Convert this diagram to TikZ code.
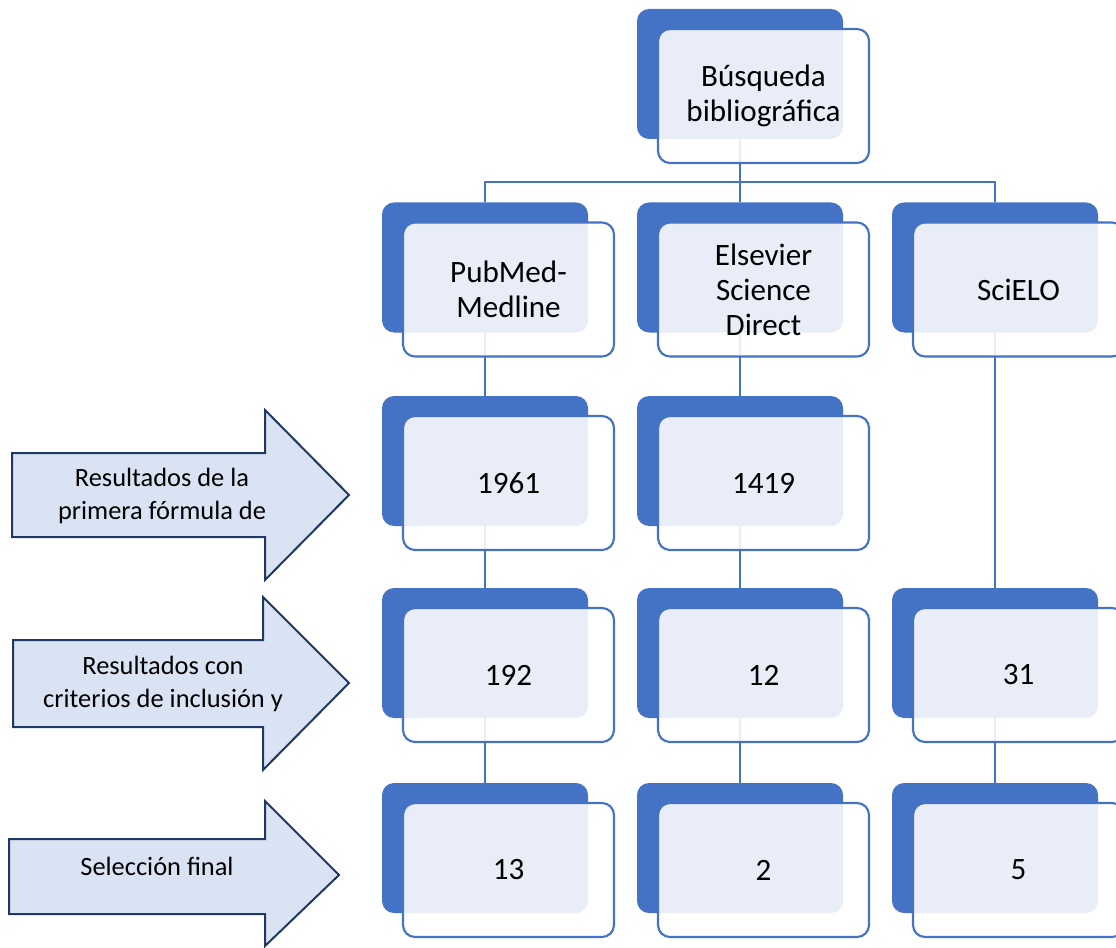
\documentclass[tikz,border=0pt]{standalone}
\usepackage{fontspec}
\setmainfont{Carlito}
\usetikzlibrary{positioning, calc}
\definecolor{accent}{HTML}{4472C4}
\definecolor{arrowfill}{HTML}{DAE3F3}
\definecolor{arrowline}{HTML}{203864}

\begin{document}
\begin{tikzpicture}[
        x=0.75pt, y=-0.75pt,
        back/.style={rectangle, rounded corners=9pt, fill=accent, inner sep=0pt,
                     minimum width=154.5pt, minimum height=97.5pt},
        front/.style={rectangle, rounded corners=9pt, draw=accent, line width=1.6pt,
                      fill=white, fill opacity=0.88, text opacity=1, align=center,
                      minimum width=158.25pt, minimum height=100.5pt,
                      font=\fontsize{23.3}{26.25}\selectfont},
        link/.style={draw=accent, line width=1.6pt},
        banner/.style={draw=arrowline, line width=1.5pt, fill=arrowfill, line join=miter},
        bannertext/.style={align=center, font=\fontsize{19.8}{24.75}\selectfont},
    ]
        \clip (0,0) rectangle (1116,948);

        % back plates
        \node[back] (top) at (740,74) {};
        \node[back] (pub) at (485,267.5) {};
        \node[back] (els) at (740,267.5) {};
        \node[back] (sci) at (995,267.5) {};
        \node[back] (pub1) at (485,461) {};
        \node[back] (els1) at (740,461) {};
        \node[back] (pub2) at (485,653) {};
        \node[back] (els2) at (740,653) {};
        \node[back] (sci2) at (995,653) {};
        \node[back] (pub3) at (485,848) {};
        \node[back] (els3) at (740,848) {};
        \node[back] (sci3) at (995,848) {};

        % connectors
        \coordinate (bus) at (740,182);
        \draw[link] (top.south) -- (bus);
        \draw[link] (pub.north) |- (bus) -| (sci.north);
        \draw[link] (bus) -- (els.north);
        \draw[link] (pub.south) -- (pub1.north);
        \draw[link] (pub1.south) -- (pub2.north);
        \draw[link] (pub2.south) -- (pub3.north);
        \draw[link] (els.south) -- (els1.north);
        \draw[link] (els1.south) -- (els2.north);
        \draw[link] (els2.south) -- (els3.north);
        \draw[link] (sci.south) -- (sci2.north);
        \draw[link] (sci2.south) -- (sci3.north);

        % front cards
        \node[front] (topF) at ([shift={(23.5,22)}]top.center) {Búsqueda\\bibliográfica};
        \node[front] (pubF) at ([shift={(23.5,22)}]pub.center) {PubMed-\\Medline};
        \node[front] (elsF) at ([shift={(23.5,22)}]els.center) {Elsevier\\Science\\Direct};
        \node[front] (sciF) at ([shift={(23.5,22)}]sci.center) {SciELO};
        \node[front] (pub1F) at ([shift={(23.5,22)}]pub1.center) {1961};
        \node[front] (els1F) at ([shift={(23.5,22)}]els1.center) {1419};
        \node[front] (pub2F) at ([shift={(23.5,22)}]pub2.center) {192};
        \node[front] (els2F) at ([shift={(23.5,22)}]els2.center) {12};
        \node[front] (sci2F) at ([shift={(23.5,22)}]sci2.center) {31};
        \node[front] (pub3F) at ([shift={(23.5,22)}]pub3.center) {13};
        \node[front] (els3F) at ([shift={(23.5,22)}]els3.center) {2};
        \node[front] (sci3F) at ([shift={(23.5,22)}]sci3.center) {5};

        % stage arrows
        \draw[banner] (12,453) -- (265,453) -- (265,410) -- (349,495) -- (265,580)
            -- (265,537) -- (12,537) -- cycle;
        \node[bannertext] (stage1) at (162,496) {Resultados de la\\primera fórmula de};
        \draw[banner] (13,640) -- (263,640) -- (263,597) -- (349,683) -- (263,770)
            -- (263,727) -- (13,727) -- cycle;
        \node[bannertext] (stage2) at (163,684) {Resultados con\\criterios de inclusión y};
        \draw[banner] (9,839) -- (265,839) -- (265,801) -- (339,875) -- (265,946)
            -- (265,914) -- (9,914) -- cycle;
        \node[bannertext] (stage3) at (157,866) {Selección final};
    \end{tikzpicture}
\end{document}
